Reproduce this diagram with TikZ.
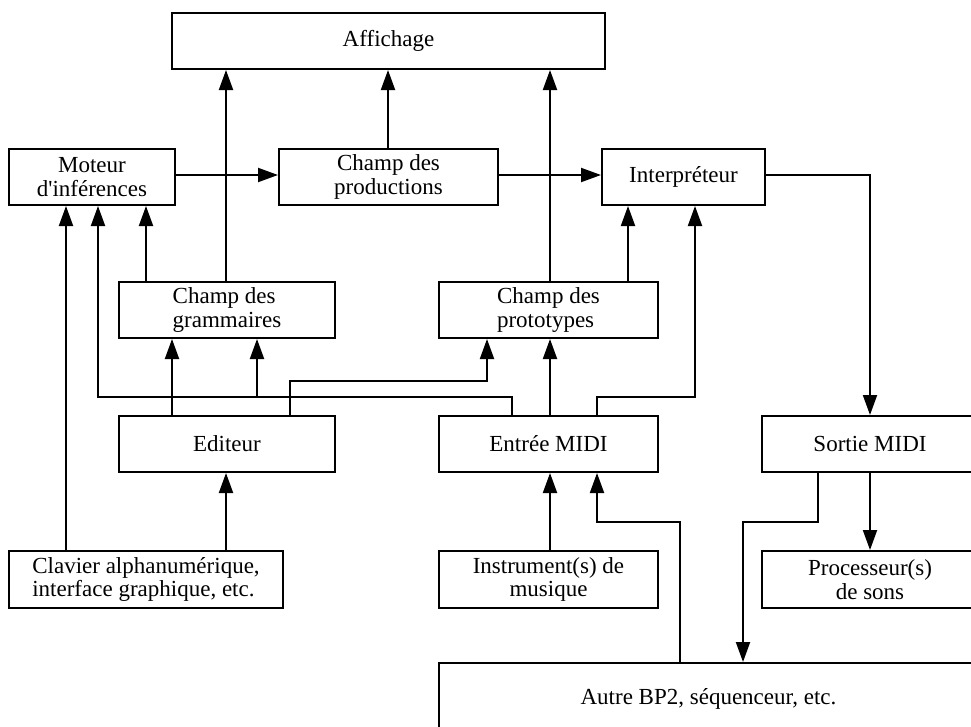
\documentclass[tikz,border=0pt]{standalone}
\usepackage{fontspec}
\setmainfont{Liberation Serif}
\usetikzlibrary{arrows.meta}
\begin{document}
\begin{tikzpicture}[x=1pt,y=-1pt,
  box/.style={draw, line width=2pt, inner sep=0pt, align=center,
    font=\fontsize{23}{23.5}\selectfont},
  conn/.style={line width=2pt},
  arr/.style={line width=2pt, -{Triangle[length=20pt,width=14pt]}}]
\useasboundingbox (0,0) rectangle (971,726);
\clip (0,0) rectangle (971,726);
% boxes
\node[box, minimum width=433pt, minimum height=56pt] (aff) at (388.5,41) {Affichage};
\node[box, minimum width=166pt, minimum height=56pt] (mot) at (92,177) {Moteur\\d\textquotesingle inférences};
\node[box, minimum width=219pt, minimum height=56pt] (prod) at (388.5,177) {Champ des\\productions};
\node[box, minimum width=163pt, minimum height=56pt] (interp) at (683.5,177) {Interpréteur};
\node[box, minimum width=216pt, minimum height=56pt, align=left] (gram) at (227,310) {Champ des\\grammaires};
\node[box, minimum width=219pt, minimum height=56pt, align=left] (proto) at (548.5,310) {Champ des\\prototypes};
\node[box, minimum width=216pt, minimum height=56pt] (edit) at (227,444) {Editeur};
\node[box, minimum width=219pt, minimum height=56pt] (entree) at (548.5,444) {Entrée MIDI};
\node[box, minimum width=216pt, minimum height=56pt] (sortie) at (870,444) {Sortie MIDI};
\node[box, minimum width=274pt, minimum height=57pt, align=left] (clav) at (146,579.5) {Clavier alphanumérique,\\interface graphique, etc.};
\node[box, minimum width=219pt, minimum height=57pt] (instr) at (548.5,579.5) {Instrument(s) de\\musique};
\node[box, minimum width=216pt, minimum height=57pt] (proc) at (870,579.5) {Processeur(s)\\de sons};
\node[box, minimum width=539pt, minimum height=72pt] (autre) at (708.5,699) {Autre BP2, séquenceur, etc.};
% column and row coordinates
\coordinate (c66) at (66,0);
\coordinate (c98) at (98,0);
\coordinate (c146) at (146,0);
\coordinate (c172) at (172,0);
\coordinate (c226) at (226,0);
\coordinate (c257) at (257,0);
\coordinate (c290) at (290,0);
\coordinate (c388) at (388,0);
\coordinate (c487) at (487,0);
\coordinate (c512) at (512,0);
\coordinate (c550) at (550,0);
\coordinate (c597) at (597,0);
\coordinate (c628) at (628,0);
\coordinate (c680) at (680,0);
\coordinate (c695) at (695,0);
\coordinate (c743) at (743,0);
\coordinate (c818) at (818,0);
\coordinate (c870) at (870,0);
\coordinate (r175) at (0,175);
\coordinate (r381) at (0,381);
\coordinate (r397) at (0,397);
\coordinate (r522) at (0,522);
% connectors
\draw[arr] (mot.east |- r175) -- (prod.west |- r175);
\draw[arr] (prod.east |- r175) -- (interp.west |- r175);
\draw[arr] (prod.north -| c388) -- (aff.south -| c388);
\draw[arr] (gram.north -| c226) -- (aff.south -| c226);
\draw[arr] (proto.north -| c550) -- (aff.south -| c550);
\draw[arr] (gram.north -| c146) -- (mot.south -| c146);
\draw[arr] (proto.north -| c628) -- (interp.south -| c628);
\draw[arr] (clav.north -| c66) -- (mot.south -| c66);
\draw[arr] (entree.north -| c512) -- (c512 |- r397) -- (c98 |- r397) -- (mot.south -| c98);
\draw[arr] (c257 |- r397) -- (gram.south -| c257);
\draw[arr] (edit.north -| c172) -- (gram.south -| c172);
\draw[arr] (edit.north -| c290) |- (c487 |- r381) -- (proto.south -| c487);
\draw[arr] (entree.north -| c550) -- (proto.south -| c550);
\draw[arr] (entree.north -| c597) |- (c695 |- r397) -- (interp.south -| c695);
\draw[arr] (clav.north -| c226) -- (edit.south -| c226);
\draw[arr] (instr.north -| c550) -- (entree.south -| c550);
\draw[arr] (autre.north -| c680) |- (c597 |- r522) -- (entree.south -| c597);
\draw[arr] (sortie.south -| c818) |- (c743 |- r522) -- (autre.north -| c743);
\draw[arr] (sortie.south -| c870) -- (proc.north -| c870);
\draw[arr] (interp.east |- r175) -| (sortie.north -| c870);
\end{tikzpicture}
\end{document}
